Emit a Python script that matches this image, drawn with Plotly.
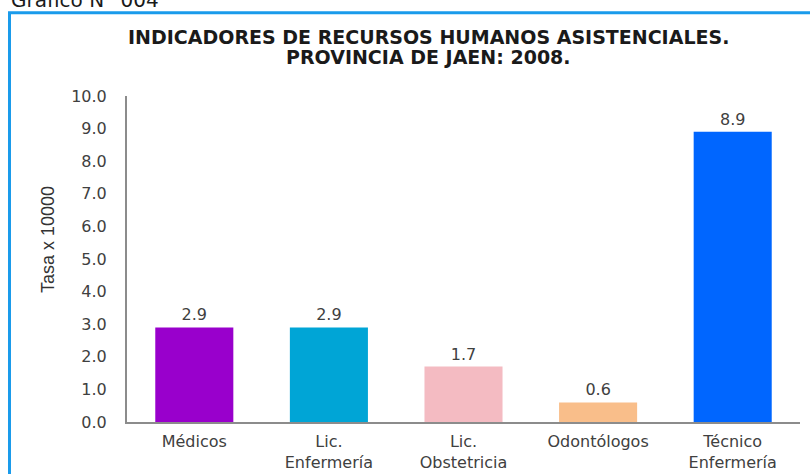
import plotly.graph_objects as go

categories = ["Médicos", "Lic.<br>Enfermería", "Lic.<br>Obstetricia", "Odontólogos", "Técnico<br>Enfermería"]
values = [2.9, 2.9, 1.7, 0.6, 8.9]
bar_colors = ["#9900CC", "#00A5D6", "#F4BBC2", "#F9BE8A", "#0066FF"]
y_ticks = [0, 1, 2, 3, 4, 5, 6, 7, 8, 9, 10]
y_tick_labels = [f"{v:.1f}" for v in y_ticks]
title_lines = ["INDICADORES DE RECURSOS HUMANOS ASISTENCIALES.", "PROVINCIA DE JAEN: 2008."]

# body margin is removed below, so screen coords = figure coords
W, H = 810, 474
L, R, T, B = 127, 10, 96, 52
pw, ph = W - L - R, H - T - B

def px_x(sx):
    return (sx - L) / pw

def px_y(sy):
    return (H - B - sy) / ph

fig = go.Figure(go.Bar(
    x=categories, y=values,
    marker=dict(color=bar_colors, line=dict(width=0)),
    text=[f"{v:.1f}" for v in values],
    textposition="outside",
    textfont=dict(family="DejaVu Sans", size=16, color="#404040"),
    cliponaxis=False,
    width=0.58,
))

fig.update_layout(
    width=W, height=H,
    margin=dict(l=L, r=R, t=T, b=B, autoexpand=False),
    paper_bgcolor="white", plot_bgcolor="white",
    showlegend=False,
    xaxis=dict(
        showline=True, linecolor="#8C8C8C", linewidth=2,
        ticks="", showgrid=False, automargin=False,
        tickfont=dict(family="DejaVu Sans", size=16, color="#404040"),
        ticklabelstandoff=4,
    ),
    yaxis=dict(
        range=[0, 10], tickvals=y_ticks, ticktext=y_tick_labels,
        showline=True, linecolor="#8C8C8C", linewidth=2,
        ticks="", showgrid=False, zeroline=False, automargin=False,
        tickfont=dict(family="DejaVu Sans", size=16, color="#404040"),
        ticklabelstandoff=15,
    ),
    shapes=[
        dict(type="rect", xref="paper", yref="paper",
             x0=px_x(9.5), x1=px_x(840), y0=px_y(520), y1=px_y(12.7),
             line=dict(color="#1A9BEB", width=3), fillcolor="rgba(0,0,0,0)", layer="below"),
    ],
    annotations=[
        dict(text=f"<b>{title_lines[0]}</b>",
             xref="paper", yref="paper", x=px_x(428), y=px_y(36.5),
             xanchor="center", yanchor="middle", align="center", showarrow=False,
             font=dict(family="DejaVu Sans", size=19, color="#1A1A1A")),
        dict(text=f"<b>{title_lines[1]}</b>",
             xref="paper", yref="paper", x=px_x(428), y=px_y(57.5),
             xanchor="center", yanchor="middle", align="center", showarrow=False,
             font=dict(family="DejaVu Sans", size=19, color="#1A1A1A")),
        dict(text="Tasa x 10000", xref="paper", yref="paper",
             x=px_x(48), y=px_y(240), xanchor="center", yanchor="middle",
             textangle=-90, showarrow=False,
             font=dict(family="Liberation Sans", size=18, color="#333333")),
        dict(text="Gráfico N° 004", xref="paper", yref="paper",
             x=px_x(9), y=px_y(0), xanchor="left", yanchor="middle",
             showarrow=False,
             font=dict(family="DejaVu Sans", size=20, color="#1A1A1A")),
    ],
)

fig.write_html("out.html", config={"displayModeBar": False},
               post_script="document.body.style.margin='0';")
